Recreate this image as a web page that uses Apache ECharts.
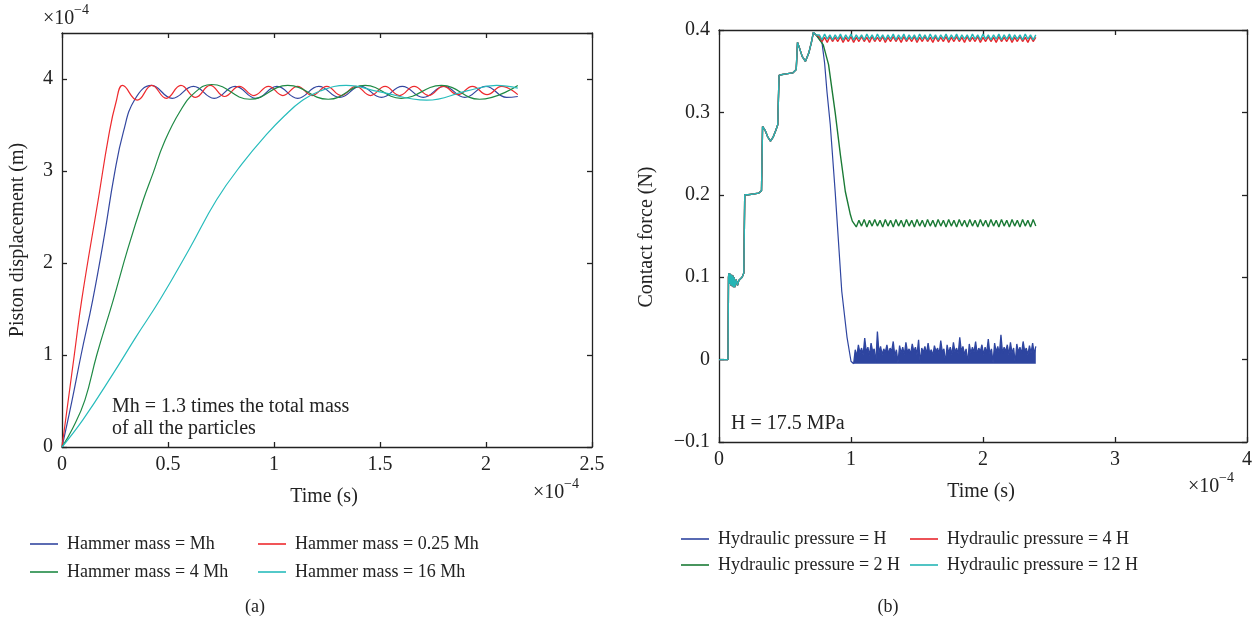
<!DOCTYPE html>
<html>
<head>
<meta charset="utf-8">
<script src="https://cdn.jsdelivr.net/npm/echarts@6/dist/echarts.min.js"></script>
<style>
html,body{margin:0;padding:0;background:#fff;}
#chart{width:1256px;height:621px;}
</style>
</head>
<body>
<div id="chart"></div>
<script>
// ---------- Panel (a): piston displacement (x in 1e-4 s, y in 1e-4 m) ----------
const namesA = ['Hammer mass = Mh', 'Hammer mass = 0.25 Mh', 'Hammer mass = 4 Mh', 'Hammer mass = 16 Mh'];
const massMh = [[0,0],[0.045,0.48],[0.09,1.0],[0.145,1.6],[0.2,2.3],[0.246,2.95],[0.289,3.42],[0.344,3.78],[0.423,3.93],[0.52,3.79],[0.62,3.92],[0.718,3.79],[0.817,3.92],[0.915,3.79],[1.014,3.92],[1.112,3.79],[1.211,3.92],[1.31,3.80],[1.408,3.92],[1.507,3.80],[1.605,3.92],[1.704,3.80],[1.802,3.92],[1.90,3.80],[1.999,3.92],[2.097,3.80],[2.15,3.81]];
const mass025Mh = [[0,0],[0.058,1.0],[0.093,1.6],[0.171,2.69],[0.22,3.38],[0.255,3.75],[0.286,3.93],[0.355,3.77],[0.424,3.93],[0.492,3.79],[0.561,3.93],[0.63,3.80],[0.699,3.93],[0.767,3.81],[0.836,3.92],[0.905,3.82],[0.974,3.92],[1.042,3.82],[1.111,3.92],[1.18,3.82],[1.249,3.92],[1.317,3.82],[1.386,3.92],[1.455,3.82],[1.524,3.92],[1.592,3.82],[1.661,3.92],[1.73,3.82],[1.799,3.92],[1.867,3.83],[1.936,3.92],[2.005,3.83],[2.074,3.92],[2.15,3.83]];
const mass4Mh = [[0,0],[0.05,0.2],[0.108,0.51],[0.164,1.0],[0.242,1.6],[0.31,2.15],[0.384,2.69],[0.43,2.98],[0.48,3.3],[0.557,3.65],[0.63,3.86],[0.706,3.94],[0.887,3.78],[1.065,3.93],[1.256,3.78],[1.43,3.93],[1.60,3.79],[1.79,3.93],[1.97,3.78],[2.15,3.93]];
const mass16Mh = [[0,0],[0.1,0.3],[0.242,0.8],[0.35,1.2],[0.462,1.6],[0.6,2.15],[0.73,2.69],[0.85,3.08],[0.966,3.40],[1.05,3.60],[1.13,3.76],[1.217,3.87],[1.34,3.93],[1.50,3.86],[1.72,3.77],[1.91,3.87],[2.05,3.93],[2.15,3.90]];

// ---------- Panel (b): contact force (x in 1e-4 s, y in N) ----------
const namesB = ['Hydraulic pressure = H', 'Hydraulic pressure = 4 H', 'Hydraulic pressure = 2 H', 'Hydraulic pressure = 12 H'];
// common loading staircase (all four pressures overlap here)
const riseB = [[0,0],[0.068,0],[0.072,0.1],[0.075,0.105],[0.08,0.092],[0.085,0.104],[0.09,0.09],[0.095,0.103],[0.10,0.089],[0.105,0.102],[0.11,0.088],[0.115,0.1],[0.12,0.088],[0.13,0.097],[0.14,0.09],[0.15,0.096],[0.16,0.094],[0.175,0.1],[0.188,0.105],[0.195,0.2],[0.22,0.2],[0.26,0.201],[0.3,0.202],[0.322,0.205],[0.33,0.283],[0.35,0.278],[0.37,0.27],[0.39,0.265],[0.41,0.27],[0.43,0.278],[0.445,0.285],[0.455,0.345],[0.48,0.346],[0.52,0.347],[0.56,0.348],[0.585,0.352],[0.595,0.385],[0.61,0.378],[0.63,0.368],[0.655,0.362],[0.68,0.372],[0.70,0.385],[0.715,0.397],[0.735,0.394]];
const dropH = [[0.75,0.393],[0.78,0.385],[0.80,0.36],[0.818,0.325],[0.843,0.285],[0.88,0.204],[0.93,0.083],[0.97,0.027],[1.0,-0.002],[1.02,-0.005]];
const drop2H = [[0.75,0.393],[0.79,0.382],[0.83,0.358],[0.88,0.30],[0.92,0.248],[0.957,0.204],[0.995,0.176],[1.01,0.168]];
// sampled tails: start time, step, values
const tailStartH = 1.02, tailStepH = 0.012, tailBaseH = -0.005;
const tailH = [
-0.005,0.012,0.004,0.018,0.008,0.014,0.006,0.026,0.009,0.015,
0.005,0.020,0.010,0.013,-0.004,0.034,0.008,0.016,0.006,0.013,
0.009,0.018,0.007,0.014,0.010,0.022,0.005,0.012,-0.004,0.017,
0.008,0.015,0.006,0.021,0.009,0.013,0.007,0.019,0.010,0.015,
0.006,0.024,-0.004,0.014,0.009,0.016,0.007,0.020,0.008,0.012,
0.005,0.017,0.010,0.014,0.007,0.023,0.009,0.013,-0.004,0.018,
0.008,0.015,0.006,0.021,0.009,0.014,0.007,0.027,0.010,0.016,
0.006,0.013,-0.004,0.019,0.008,0.015,0.009,0.022,0.007,0.014,
0.010,0.018,0.006,0.015,0.008,0.025,0.007,0.013,-0.004,0.020,
0.009,0.016,0.007,0.030,0.008,0.015,0.010,0.018,0.006,0.021,
0.008,0.014,-0.004,0.019,0.009,0.015,0.007,0.022,0.010,0.014,
0.006,0.017,0.008,0.020,0.007,0.016];
const tailStart2H = 1.02, tailStep2H = 0.02;
const tail2H = [
0.170,0.161,0.169,0.162,0.170,0.161,0.169,0.162,0.170,0.162,
0.169,0.161,0.170,0.162,0.169,0.161,0.170,0.162,0.169,0.161,
0.170,0.162,0.169,0.161,0.170,0.162,0.169,0.161,0.170,0.162,
0.169,0.161,0.170,0.162,0.169,0.161,0.170,0.162,0.169,0.161,
0.170,0.162,0.169,0.161,0.170,0.162,0.169,0.161,0.170,0.162,
0.169,0.161,0.170,0.162,0.169,0.161,0.170,0.162,0.169,0.161,
0.170,0.162,0.169,0.161,0.170,0.162,0.169,0.161,0.170,0.162];
const tailStartHi = 0.76, tailStepHi = 0.02;
const tail4H = [
0.392,0.386,0.391,0.385,0.392,0.386,0.391,0.386,0.392,0.385,
0.391,0.386,0.392,0.385,0.391,0.386,0.392,0.386,0.391,0.385,
0.392,0.386,0.391,0.386,0.392,0.385,0.391,0.386,0.392,0.386,
0.391,0.385,0.392,0.386,0.391,0.386,0.392,0.385,0.391,0.386,
0.392,0.386,0.391,0.385,0.392,0.386,0.391,0.386,0.392,0.385,
0.391,0.386,0.392,0.386,0.391,0.385,0.392,0.386,0.391,0.386,
0.392,0.385,0.391,0.386,0.392,0.386,0.391,0.385,0.392,0.386,
0.391,0.386,0.392,0.385,0.391,0.386,0.392,0.386,0.391,0.385,
0.392,0.386,0.391];
const tail12H = [
0.394,0.388,0.395,0.389,0.394,0.388,0.394,0.389,0.395,0.388,
0.394,0.389,0.395,0.388,0.394,0.389,0.394,0.388,0.395,0.389,
0.394,0.388,0.395,0.389,0.394,0.388,0.394,0.389,0.395,0.388,
0.394,0.389,0.395,0.388,0.394,0.389,0.394,0.388,0.395,0.389,
0.394,0.388,0.395,0.389,0.394,0.388,0.394,0.389,0.395,0.388,
0.394,0.389,0.395,0.388,0.394,0.389,0.394,0.388,0.395,0.389,
0.394,0.388,0.395,0.389,0.394,0.388,0.394,0.389,0.395,0.388,
0.394,0.389,0.395,0.388,0.394,0.389,0.394,0.388,0.395,0.389,
0.394,0.388,0.394];

function sampled(start, step, vals) { return vals.map((v, i) => [+(start + i * step).toFixed(4), v]); }
const dataH = riseB.concat(dropH);
const dataHTail = sampled(tailStartH, tailStepH, tailH);
const data2H = riseB.concat(drop2H, sampled(tailStart2H, tailStep2H, tail2H));
const data4H = riseB.concat(sampled(tailStartHi, tailStepHi, tail4H));
const data12H = riseB.concat(sampled(tailStartHi, tailStepHi, tail12H));

const FONT = 'Liberation Serif';
const colA = ['#3347a0', '#ee2a2e', '#1f8a45', '#27bcbc'];
const colB = ['#2e45a0', '#e8262c', '#1a7a35', '#25b5b5'];

function axisX(grid, pos, min, max, interval, labels) {
  return {
    type: 'value', gridIndex: grid, position: pos, min: min, max: max, interval: interval,
    axisLine: {show: true, onZero: false, lineStyle: {color: '#222', width: 1.3}},
    axisTick: {show: true, inside: true, length: 5, lineStyle: {color: '#222', width: 1.3}},
    axisLabel: {show: labels, margin: 8, color: '#222', fontFamily: FONT, fontSize: 20,
      formatter: v => String(+v.toFixed(2))},
    splitLine: {show: false}
  };
}
function axisY(grid, pos, min, max, interval, labels, hideMax) {
  return {
    type: 'value', gridIndex: grid, position: pos, min: min, max: max, interval: interval,
    axisLine: {show: true, onZero: false, lineStyle: {color: '#222', width: 1.3}},
    axisTick: {show: true, inside: true, length: 5, lineStyle: {color: '#222', width: 1.3}},
    axisLabel: {show: labels, margin: 9, color: '#222', fontFamily: FONT, fontSize: 20,
      showMaxLabel: !hideMax,
      formatter: v => { const r = +v.toFixed(2); if (hideMax && r === max) return ''; return r < 0 ? '\u2212' + String(-r) : String(r); }},
    splitLine: {show: false}
  };
}

function lineSeries(name, data, color, xi, yi, smooth, width) {
  return {name: name, type: 'line', data: data, xAxisIndex: xi, yAxisIndex: yi,
    showSymbol: false, symbol: 'none', smooth: smooth, sampling: null,
    lineStyle: {color: color, width: width || 1.2}, itemStyle: {color: color}, emphasis: {disabled: true}};
}

function legendCol(names, left, top, gap) {
  return {data: names, orient: 'vertical', left: left, top: top, padding: 0, itemWidth: 28, itemHeight: 14, itemGap: gap,
    icon: 'path://M0,0 L28,0 L28,1.6 L0,1.6 Z',
    textStyle: {fontFamily: FONT, fontSize: 18, color: '#222', padding: [0, 0, 0, 4]}};
}

function txt(x, y, s, size) {
  return {type: 'text', x: x, y: y, silent: true,
    style: {text: s, fontFamily: FONT, fontSize: size, fill: '#222', textAlign: 'left', textVerticalAlign: 'middle'}};
}
function ctxt(x, y, s, size, rot) {
  return {type: 'text', x: x, y: y, rotation: rot || 0, silent: true,
    style: {text: s, fontFamily: FONT, fontSize: size, fill: '#222', textAlign: 'center', textVerticalAlign: 'middle'}};
}

const tailSeries = lineSeries(null, dataHTail, colB[0], 2, 2, false, 1.3);
tailSeries.areaStyle = {color: colB[0], opacity: 1, origin: tailBaseH};

const chart = echarts.init(document.getElementById('chart'), null, {renderer: 'canvas'});
chart.setOption({
  animation: false,
  backgroundColor: '#fff',
  grid: [
    {left: 62, top: 33, width: 530, height: 414},
    {left: 719, top: 30, width: 528, height: 412}
  ],
  xAxis: [
    axisX(0, 'bottom', 0, 2.5, 0.5, true),
    axisX(0, 'top', 0, 2.5, 0.5, false),
    axisX(1, 'bottom', 0, 4, 1, true),
    axisX(1, 'top', 0, 4, 1, false)
  ],
  yAxis: [
    axisY(0, 'left', 0, 4.5, 1, true, true),
    axisY(0, 'right', 0, 4.5, 1, false, true),
    axisY(1, 'left', -0.1, 0.4, 0.1, true, false),
    axisY(1, 'right', -0.1, 0.4, 0.1, false, false)
  ],
  legend: [
    legendCol([namesA[0], namesA[2]], 30, 535, 10),
    legendCol([namesA[1], namesA[3]], 258, 535, 10),
    legendCol([namesB[0], namesB[2]], 681, 530, 8),
    legendCol([namesB[1], namesB[3]], 910, 530, 8)
  ],
  series: [
    lineSeries(namesA[0], massMh, colA[0], 0, 0, 0.45),
    lineSeries(namesA[1], mass025Mh, colA[1], 0, 0, 0.45),
    lineSeries(namesA[2], mass4Mh, colA[2], 0, 0, 0.45),
    lineSeries(namesA[3], mass16Mh, colA[3], 0, 0, 0.45),
    lineSeries(namesB[0], dataH, colB[0], 2, 2, false),
    tailSeries,
    lineSeries(namesB[2], data2H, colB[2], 2, 2, false, 1.4),
    lineSeries(namesB[1], data4H, colB[1], 2, 2, false, 1.4),
    lineSeries(namesB[3], data12H, colB[3], 2, 2, false, 1.4)
  ],
  graphic: [
    txt(43, 19, '\u00d710', 20), txt(74, 10, '\u22124', 14),
    ctxt(18, 240, 'Piston displacement (m)', 20, Math.PI / 2),
    ctxt(324, 497, 'Time (s)', 20),
    txt(533, 493, '\u00d710', 20), txt(564, 484, '\u22124', 14),
    txt(112, 407, 'Mh = 1.3 times the total mass', 20),
    txt(112, 429, 'of all the particles', 20),
    ctxt(255, 607, '(a)', 18),
    ctxt(647, 237, 'Contact force (N)', 20, Math.PI / 2),
    ctxt(981, 492, 'Time (s)', 20),
    txt(1188, 487, '\u00d710', 20), txt(1219, 478, '\u22124', 14),
    txt(731, 424, 'H = 17.5 MPa', 20),
    ctxt(888, 607, '(b)', 18)
  ]
});
</script>
</body>
</html>
